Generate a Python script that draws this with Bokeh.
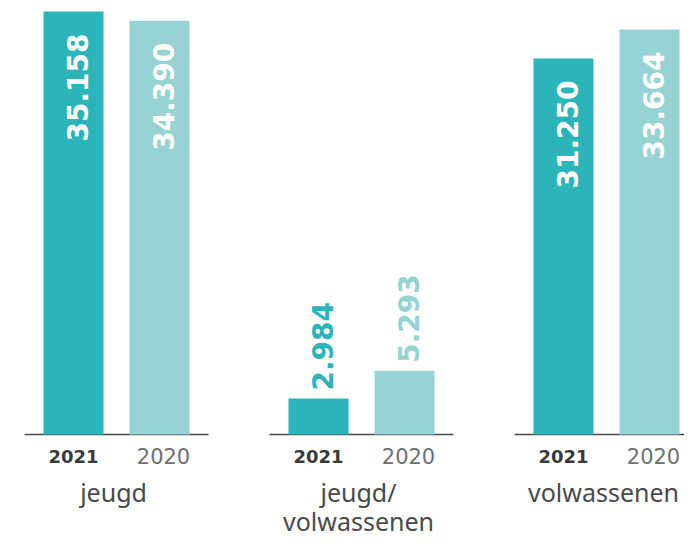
import numpy as np
from bokeh.plotting import figure
from bokeh.models import ColumnDataSource, Range1d
from bokeh.core.properties import value
from bokeh.embed import file_html
from bokeh.resources import INLINE

# ---- data ----
groups = ["jeugd", "jeugd/\nvolwassenen", "volwassenen"]
years = ["2021", "2020"]
values_2021 = [35158, 2984, 31250]
values_2020 = [34390, 5293, 33664]

DARK = "#2bb5b8"
LIGHT = "#96d3d2"

def fmt(v):
    return f"{v:,}".replace(",", ".")

Y0, Y1 = -8894, 36073
p = figure(width=684, height=541,
           x_range=Range1d(-0.4735, 2.3184), y_range=Range1d(Y0, Y1),
           output_backend="svg", toolbar_location=None,
           x_axis_type=None, y_axis_type=None, min_border=0,
           outline_line_color=None, background_fill_color="white",
           border_fill_color="white")

idx = np.arange(len(groups))
OFF = 0.1755
BAR_W = 0.245
series = [(years[0], values_2021, -OFF, DARK), (years[1], values_2020, OFF, LIGHT)]

# baseline segments per group
p.segment(x0=idx - 0.3755, x1=idx + 0.3755, y0=[0] * len(groups), y1=[0] * len(groups),
          line_color="#4a4a4a", line_width=1.5)

px_per_unit = 541 / (Y1 - Y0)
for yr, vals, off, col in series:
    xs = idx + off
    p.vbar(x=xs, top=vals, bottom=0, width=BAR_W, fill_color=col, line_color=None)
    labels = [fmt(v) for v in vals]
    fits = [v * px_per_unit > 130 for v in vals]
    src_in = ColumnDataSource(dict(x=[x for x, f in zip(xs, fits) if f],
                                   y=[v for v, f in zip(vals, fits) if f],
                                   t=[l for l, f in zip(labels, fits) if f]))
    src_out = ColumnDataSource(dict(x=[x for x, f in zip(xs, fits) if not f],
                                    y=[v for v, f in zip(vals, fits) if not f],
                                    t=[l for l, f in zip(labels, fits) if not f]))
    p.text(x="x", y="y", text="t", source=src_in, angle=np.pi / 2,
           text_align="right", text_baseline="middle", x_offset=4, y_offset=22,
           text_color="white", text_font=value("DejaVu Sans"), text_font_style="bold",
           text_font_size="28px")
    p.text(x="x", y="y", text="t", source=src_out, angle=np.pi / 2,
           text_align="left", text_baseline="middle", x_offset=4, y_offset=-8,
           text_color=col, text_font=value("DejaVu Sans"), text_font_style="bold",
           text_font_size="28px")
    # year labels
    bold = yr == years[0]
    p.text(x=xs, y=[0] * len(groups), text=[yr] * len(groups),
           text_align="center", text_baseline="middle", y_offset=22,
           x_offset=0 if bold else 4,
           text_color="#3a3a3a" if bold else "#707070",
           text_font=value("DejaVu Sans"),
           text_font_style="bold" if bold else "normal",
           text_font_size="18px" if bold else "21px")

# group labels, one glyph row per line
lx, ltxt, loff = [], [], []
for i, g in zip(idx, groups):
    for k, line in enumerate(g.split("\n")):
        lx.append(i)
        ltxt.append(line)
        loff.append(58 + 29 * k)
p.text(x=lx, y=[0] * len(lx), text=ltxt, y_offset=loff, text_align="center",
       text_baseline="alphabetic", x_offset=-3, text_color="#4a4a4a",
       text_font=value("Noto Sans"), text_font_size="25px")

open("out.html", "w").write(file_html(p, INLINE))
